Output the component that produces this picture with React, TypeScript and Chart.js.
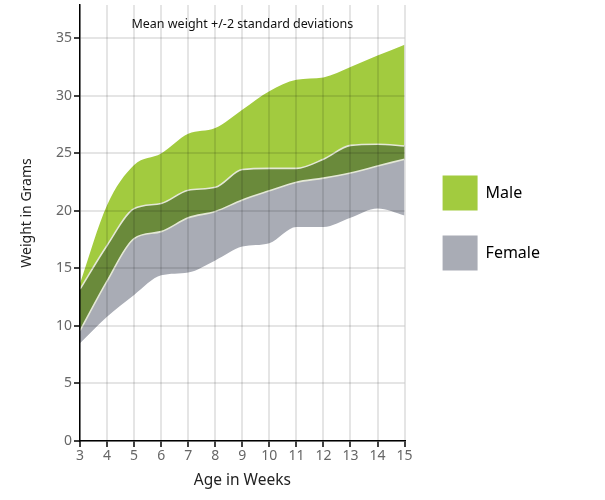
import React, { useEffect, useRef } from "react";
import { Chart, registerables } from "chart.js";

Chart.register(...registerables);

const weeks = ["3", "4", "5", "6", "7", "8", "9", "10", "11", "12", "13", "14", "15"];
const maleUpper = [13.7, 20.5, 24.0, 25.0, 26.7, 27.2, 28.8, 30.4, 31.4, 31.6, 32.5, 33.5, 34.45];
const maleLower = [9.6, 13.9, 17.6, 18.2, 19.4, 19.95, 20.95, 21.75, 22.5, 22.85, 23.3, 23.9, 24.5];
const femaleUpper = [13.2, 17.0, 20.2, 20.65, 21.8, 22.05, 23.6, 23.7, 23.7, 24.5, 25.7, 25.8, 25.65];
const femaleLower = [8.5, 10.8, 12.7, 14.4, 14.65, 15.7, 16.9, 17.2, 18.6, 18.6, 19.4, 20.2, 19.6];

const seriesNames = ["Male", "Female"];
const chartTitle = "Mean weight +/-2 standard deviations";
const xTitle = "Age in Weeks";
const yTitle = "Weight in Grams";

const LIME = "#a2cb3f";
const GRAY = "#a9acb5";
const DARK = "#6a8a3b";
const EDGE = "#e4e8d6";
const FONT = "'Noto Sans', 'Open Sans', sans-serif";

export default function App() {
  const ref = useRef<HTMLCanvasElement>(null);
  useEffect(() => {
    if (!ref.current) return;
    const base = {
      pointRadius: 0,
      pointHoverRadius: 0,
      cubicInterpolationMode: "monotone" as const,
    };
    const textPlugin = {
      id: "overlayText",
      afterLayout(chart: any) {
        const lg = chart.legend;
        if (lg) {
          const shift = chart.chartArea.right + 13 - lg.left;
          lg.left += shift;
          lg.right += shift;
        }
      },
      afterDraw(chart: any) {
        const { ctx, chartArea } = chart;
        ctx.save();
        ctx.fillStyle = "#111";
        ctx.font = `12.5px ${FONT}`;
        ctx.textAlign = "center";
        ctx.textBaseline = "middle";
        ctx.fillText(chartTitle, (chartArea.left + chartArea.right) / 2, chartArea.top + 19);
        ctx.translate(27, (chartArea.top + chartArea.bottom) / 2 - 10);
        ctx.rotate(-Math.PI / 2);
        ctx.fillStyle = "#222";
        ctx.font = `14px ${FONT}`;
        ctx.fillText(yTitle, 0, 0);
        ctx.restore();
      },
    };
    const chart = new Chart(ref.current, {
      type: "line",
      data: {
        labels: weeks,
        datasets: [
          { ...base, label: "femaleLower", data: femaleLower, borderWidth: 0, fill: false, order: 3 },
          { ...base, label: seriesNames[1], data: femaleUpper, borderWidth: 0, backgroundColor: GRAY, fill: "-1", order: 3 },
          { ...base, label: "maleLower", data: maleLower, borderWidth: 0, fill: false, order: 2 },
          { ...base, label: seriesNames[0], data: maleUpper, borderWidth: 0, backgroundColor: LIME, fill: "-1", order: 2 },
          { ...base, label: "maleLowerEdge", data: maleLower, borderWidth: 1.6, borderColor: EDGE, fill: false, order: 1 },
          { ...base, label: "overlap", data: femaleUpper, borderWidth: 1.6, borderColor: EDGE, backgroundColor: DARK, fill: "-1", order: 1 },
        ],
      },
      options: {
        animation: false,
        responsive: false,
        layout: { padding: { top: 5, right: 68, left: 0, bottom: 0 } },
        plugins: {
          tooltip: { enabled: false },
          title: { display: false },
          legend: {
            position: "right",
            fullSize: false,
            onClick: () => {},
            labels: {
              boxWidth: 35,
              boxHeight: 35,
              padding: 25,
              color: "#222",
              font: { size: 16, family: FONT },
              generateLabels: () => [
                { text: seriesNames[0], fillStyle: LIME, strokeStyle: LIME, lineWidth: 0, hidden: false, datasetIndex: 3 },
                { text: seriesNames[1], fillStyle: GRAY, strokeStyle: GRAY, lineWidth: 0, hidden: false, datasetIndex: 1 },
              ],
            },
          },
        },
        scales: {
          x: {
            offset: false,
            grid: { color: "rgba(0,0,0,0.1)", lineWidth: 2, z: 1, tickColor: "#000", tickLength: 6, tickWidth: 1.5 },
            border: { color: "#000", width: 1.5, z: 2 },
            ticks: { color: "#666", font: { size: 14, family: FONT }, padding: 1, maxRotation: 0, autoSkip: false },
            title: { display: true, text: xTitle, color: "#222", font: { size: 15.5, family: FONT }, padding: { top: 0, bottom: 10 } },
            afterFit: (s: any) => { s.height = 59; s.paddingLeft = 0; s.paddingRight = 0; },
          },
          y: {
            min: 0,
            max: 37.9,
            grid: { color: "rgba(0,0,0,0.1)", lineWidth: 2, z: 1, tickColor: "#000", tickLength: 6, tickWidth: 1.5 },
            border: { color: "#000", width: 1.5, z: 2 },
            ticks: { stepSize: 5, includeBounds: false, color: "#666", font: { size: 14, family: FONT }, padding: 2 },
            afterFit: (s: any) => { s.width = 80; s.paddingTop = 0; s.paddingBottom = 0; },
          },
        },
      } as any,
      plugins: [textPlugin],
    });
    return () => chart.destroy();
  }, []);
  return (
    <canvas
      ref={ref}
      width={605}
      height={500}
      style={{ position: "absolute", left: 0, top: 0, width: 605, height: 500 }}
    />
  );
}
